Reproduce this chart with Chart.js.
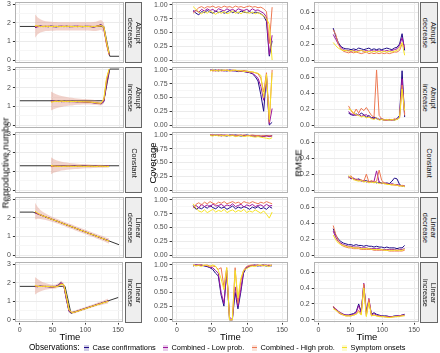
<!DOCTYPE html>
<html>
<head>
<meta charset="utf-8">
<script src="https://cdn.jsdelivr.net/npm/chart.js@4.4.1/dist/chart.umd.min.js"></script>
<style>
  body { margin: 0; width: 440px; height: 353px; position: relative; background: #fff; overflow: hidden;
         font-family: "Liberation Sans", Arial, sans-serif; color: #000; }
  canvas { position: absolute; }
  .strip { position: absolute; background: #eeeeee; border: 1px solid #666; box-sizing: border-box; }
  .strip span { position: absolute; left: 50%; top: 50%; transform: translate(-50%, -50%) rotate(90deg);
                white-space: nowrap; text-align: center; font-size: 7.4px; line-height: 8px; color: #1a1a1a; }
  .ytitle { position: absolute; font-size: 9.5px; white-space: nowrap; transform: translate(-50%, -50%) rotate(-90deg); }
  .xtitle { position: absolute; font-size: 9.5px; white-space: nowrap; transform: translateX(-50%); top: 331px; }
  .leg { position: absolute; top: 342.5px; line-height: 10px; font-size: 7.4px; white-space: nowrap; }
  .key { position: absolute; top: 344.5px; width: 5px; height: 6px; }
  .key i { position: absolute; left: 0; right: 0; top: 2.5px; height: 1px; }
</style>
</head>
<body>
<script>
// ---- data -------------------------------------------------------------
const seriesNames = ['Case confirmations', 'Combined - Low prob.', 'Combined - High prob.', 'Symptom onsets'];
const seriesColors = ['#1E0C88', '#9C179E', '#ED7953', '#F5E326'];
const scenarioLabels = [['Abrupt', 'decrease'], ['Abrupt', 'increase'], ['Constant'], ['Linear', 'decrease'], ['Linear', 'increase']];

const days = [23,27,31,35,39,43,47,51,55,59,63,67,71,75,79,83,87,91,95,99,103,107,111,115,119,123,127,131,135];
const daysLate = [47,51,55,59,63,67,71,75,79,83,87,91,95,99,103,107,111,115,119,123,127,131,135];

const xTicks = [0,25,50,75,100,125,150];
const xLabels = [0,50,100,150];

// true reproductive number (breakpoints)
const truthT = [[0,127,136,150], [0,127,136,150], [0,150], [0,20,150], [0,69,78,150]];
const truthR = [[1.8,1.8,0.2,0.2], [1.3,1.3,3.0,3.0], [1.3,1.3], [2.3,2.3,0.55], [1.8,1.8,0.35,1.2]];

// Rt estimates: [case confirmations, low prob, high prob, symptom onsets]
const rtAbruptDec = [
  [1.74,1.80,1.83,1.79,1.81,1.78,1.82,1.80,1.77,1.81,1.80,1.79,1.82,1.78,1.80,1.81,1.79,1.80,1.78,1.81,1.80,1.79,1.76,1.80,1.84,1.90,1.70,0.95,0.32],
  [1.76,1.78,1.81,1.80,1.79,1.80,1.81,1.78,1.80,1.79,1.82,1.80,1.79,1.80,1.78,1.80,1.82,1.79,1.80,1.79,1.81,1.80,1.77,1.79,1.85,1.88,1.72,0.90,0.30],
  [1.80,1.82,1.79,1.81,1.80,1.82,1.79,1.81,1.80,1.80,1.79,1.81,1.80,1.81,1.80,1.79,1.80,1.81,1.80,1.80,1.79,1.81,1.79,1.80,1.83,1.86,1.75,0.85,0.28],
  [1.85,1.83,1.80,1.78,1.82,1.79,1.80,1.79,1.81,1.78,1.80,1.79,1.81,1.80,1.79,1.80,1.78,1.81,1.79,1.80,1.80,1.78,1.79,1.81,1.82,1.84,1.78,1.00,0.35]
];
const rtAbruptInc = [
  [1.30,1.28,1.26,1.28,1.25,1.27,1.26,1.25,1.27,1.26,1.24,1.26,1.25,1.24,1.23,1.22,1.20,1.18,1.16,1.14,1.25,2.30,2.95],
  [1.28,1.27,1.27,1.26,1.26,1.25,1.27,1.26,1.25,1.25,1.25,1.24,1.24,1.23,1.23,1.21,1.19,1.17,1.15,1.14,1.28,2.20,2.90],
  [1.25,1.26,1.28,1.25,1.27,1.26,1.25,1.27,1.26,1.25,1.26,1.25,1.24,1.25,1.24,1.23,1.22,1.20,1.18,1.16,1.35,2.40,2.98],
  [1.22,1.25,1.27,1.26,1.28,1.26,1.27,1.25,1.26,1.26,1.25,1.25,1.25,1.24,1.24,1.23,1.21,1.19,1.17,1.18,1.40,2.50,3.00]
];
const rtConstant = [
  [1.30,1.27,1.28,1.26,1.29,1.27,1.28,1.26,1.27,1.28,1.26,1.27,1.28,1.27,1.26,1.27,1.28,1.27,1.26,1.27,1.28,1.27,1.27],
  [1.28,1.29,1.26,1.28,1.27,1.28,1.26,1.27,1.28,1.27,1.27,1.26,1.27,1.28,1.27,1.27,1.26,1.28,1.27,1.27,1.26,1.28,1.27],
  [1.25,1.27,1.29,1.27,1.26,1.28,1.27,1.28,1.26,1.27,1.28,1.27,1.26,1.27,1.28,1.26,1.27,1.27,1.28,1.26,1.27,1.27,1.28],
  [1.32,1.29,1.27,1.27,1.28,1.26,1.28,1.27,1.27,1.26,1.27,1.28,1.27,1.26,1.27,1.28,1.27,1.26,1.27,1.28,1.27,1.26,1.26]
];
const rtLinearDec = [
  [2.30,2.22,2.14,2.11,2.03,2.00,1.93,1.89,1.82,1.79,1.71,1.68,1.60,1.57,1.50,1.46,1.39,1.35,1.28,1.25,1.17,1.14,1.07,1.03,0.96,0.92,0.85,0.81,0.76],
  [2.28,2.20,2.16,2.09,2.05,1.98,1.95,1.87,1.84,1.77,1.73,1.66,1.62,1.55,1.52,1.44,1.41,1.33,1.30,1.23,1.19,1.12,1.09,1.01,0.98,0.90,0.87,0.79,0.77],
  [2.32,2.23,2.15,2.10,2.04,1.99,1.94,1.88,1.83,1.78,1.72,1.67,1.61,1.56,1.51,1.45,1.40,1.34,1.29,1.24,1.18,1.13,1.08,1.02,0.97,0.91,0.86,0.80,0.74],
  [2.35,2.24,2.17,2.09,2.06,1.98,1.94,1.87,1.84,1.77,1.73,1.66,1.62,1.55,1.52,1.44,1.41,1.33,1.30,1.23,1.19,1.12,1.09,1.01,0.98,0.90,0.87,0.79,0.75]
];
const rtLinearInc = [
  [1.80,1.78,1.82,1.79,1.80,1.78,1.76,1.77,1.80,1.88,2.00,1.85,1.10,0.45,0.38,0.42,0.46,0.51,0.55,0.60,0.65,0.69,0.74,0.79,0.83,0.88,0.92,0.97,1.01],
  [1.78,1.80,1.79,1.81,1.78,1.79,1.77,1.76,1.79,1.86,1.98,1.87,1.15,0.48,0.40,0.41,0.46,0.50,0.56,0.60,0.64,0.70,0.73,0.78,0.84,0.87,0.93,0.96,1.02],
  [1.82,1.79,1.80,1.80,1.79,1.80,1.78,1.77,1.78,1.84,1.95,1.88,1.20,0.50,0.39,0.40,0.45,0.50,0.55,0.59,0.64,0.69,0.74,0.78,0.83,0.87,0.92,0.96,1.00],
  [1.85,1.81,1.79,1.80,1.81,1.79,1.78,1.78,1.77,1.82,1.90,1.90,1.30,0.55,0.40,0.41,0.45,0.49,0.54,0.59,0.63,0.68,0.73,0.77,0.82,0.86,0.91,0.95,0.99]
];

// credible interval band: [lower, upper]
const bandAbruptDec = [
  [1.20,1.38,1.47,1.52,1.55,1.56,1.57,1.57,1.58,1.58,1.58,1.58,1.58,1.58,1.58,1.58,1.58,1.58,1.58,1.58,1.58,1.57,1.55,1.56,1.58,1.62,1.45,0.70,0.18],
  [2.45,2.28,2.18,2.12,2.08,2.06,2.05,2.04,2.04,2.03,2.03,2.03,2.03,2.02,2.02,2.02,2.02,2.02,2.02,2.02,2.02,2.03,2.04,2.05,2.10,2.14,2.00,1.15,0.42]
];
const bandAbruptInc = [
  [0.78,0.85,0.90,0.94,0.97,1.00,1.02,1.04,1.05,1.07,1.08,1.09,1.10,1.10,1.10,1.10,1.09,1.08,1.06,1.05,1.15,2.05,2.80],
  [1.80,1.72,1.65,1.60,1.56,1.53,1.50,1.48,1.46,1.44,1.42,1.41,1.40,1.39,1.38,1.37,1.35,1.32,1.28,1.25,1.45,2.55,3.05]
];
const bandConstant = [
  [0.85,0.92,0.97,1.01,1.04,1.06,1.08,1.10,1.11,1.12,1.13,1.14,1.15,1.16,1.16,1.17,1.18,1.18,1.19,1.19,1.20,1.20,1.21],
  [1.75,1.66,1.60,1.55,1.52,1.49,1.47,1.45,1.43,1.42,1.41,1.40,1.39,1.38,1.38,1.37,1.36,1.36,1.35,1.35,1.34,1.34,1.33]
];
const bandLinearDec = [
  [1.90,1.95,1.93,1.91,1.88,1.84,1.80,1.75,1.70,1.66,1.60,1.55,1.49,1.44,1.39,1.33,1.28,1.22,1.17,1.12,1.06,1.01,0.96,0.90,0.85,0.79,0.74,0.67,0.60],
  [2.80,2.58,2.42,2.30,2.22,2.14,2.08,2.01,1.96,1.90,1.84,1.79,1.73,1.68,1.63,1.57,1.52,1.46,1.41,1.36,1.30,1.25,1.20,1.14,1.09,1.04,0.99,0.93,0.90]
];
const bandLinearInc = [
  [1.35,1.45,1.52,1.58,1.62,1.65,1.66,1.67,1.69,1.74,1.85,1.72,1.00,0.38,0.32,0.34,0.39,0.44,0.49,0.53,0.58,0.62,0.67,0.71,0.75,0.78,0.82,0.85,0.88],
  [2.30,2.20,2.10,2.02,1.98,1.94,1.90,1.88,1.90,1.98,2.10,1.98,1.35,0.56,0.46,0.49,0.54,0.59,0.64,0.68,0.73,0.78,0.83,0.88,0.93,0.98,1.03,1.09,1.15]
];

// coverage
const covAbruptDec = [
  [0.90,0.85,0.82,0.88,0.86,0.90,0.87,0.85,0.89,0.86,0.88,0.85,0.87,0.90,0.86,0.88,0.85,0.89,0.87,0.86,0.88,0.85,0.87,0.86,0.84,0.80,0.70,0.07,0.35],
  [0.88,0.90,0.87,0.92,0.89,0.93,0.90,0.92,0.88,0.93,0.91,0.89,0.93,0.90,0.92,0.89,0.93,0.91,0.90,0.92,0.89,0.93,0.90,0.91,0.88,0.85,0.78,0.10,0.45],
  [0.85,0.90,0.95,0.97,0.94,0.97,0.96,0.98,0.95,0.97,0.95,0.98,0.96,0.97,0.95,0.98,0.96,0.97,0.95,0.97,0.98,0.96,0.97,0.95,0.96,0.93,0.88,0.30,0.96],
  [0.97,0.92,0.87,0.84,0.88,0.85,0.89,0.86,0.83,0.87,0.85,0.88,0.84,0.86,0.89,0.85,0.87,0.84,0.88,0.86,0.85,0.87,0.84,0.86,0.83,0.80,0.75,0.65,0.00]
];
const covAbruptInc = [
  [1.00,0.99,1.00,0.98,1.00,0.99,0.98,1.00,0.99,0.98,0.97,0.98,0.97,0.96,0.95,0.93,0.88,0.80,0.55,0.25,0.90,0.00,0.05],
  [0.99,1.00,0.98,1.00,0.99,0.98,1.00,0.99,0.98,0.99,0.98,0.97,0.98,0.96,0.96,0.94,0.90,0.85,0.70,0.45,0.88,0.02,0.30],
  [1.00,0.98,0.99,1.00,0.98,1.00,0.99,0.98,1.00,0.99,0.99,0.98,0.99,0.98,0.97,0.96,0.95,0.93,0.85,0.60,0.95,0.05,1.00],
  [0.98,1.00,0.99,0.98,1.00,0.99,1.00,0.98,0.99,1.00,0.98,0.99,0.97,0.98,0.96,0.97,0.95,0.94,0.90,0.50,0.92,0.10,0.95]
];
const covConstant = [
  [1.00,0.99,1.00,0.99,1.00,0.99,0.98,1.00,0.99,1.00,0.99,0.98,0.99,1.00,0.99,0.98,0.99,0.98,0.97,0.98,0.99,0.98,0.99],
  [0.99,1.00,0.99,1.00,0.98,1.00,0.99,0.99,1.00,0.98,0.99,1.00,0.98,0.99,0.99,0.98,0.97,0.99,0.98,0.97,0.98,0.97,0.98],
  [1.00,1.00,0.99,1.00,1.00,0.99,1.00,0.99,1.00,0.99,1.00,0.99,1.00,0.99,0.99,1.00,0.99,0.99,0.98,0.99,0.98,0.99,0.98],
  [0.99,0.98,1.00,0.98,0.99,0.98,0.99,0.98,0.99,0.97,0.98,0.99,0.97,0.98,0.98,0.97,0.96,0.97,0.96,0.95,0.94,0.93,0.95]
];
const covLinearDec = [
  [0.90,0.83,0.86,0.84,0.88,0.85,0.90,0.86,0.84,0.88,0.85,0.87,0.83,0.86,0.89,0.84,0.87,0.85,0.88,0.86,0.83,0.87,0.85,0.88,0.84,0.86,0.83,0.88,0.85],
  [0.87,0.90,0.86,0.92,0.88,0.91,0.87,0.93,0.89,0.90,0.92,0.88,0.91,0.89,0.93,0.88,0.90,0.92,0.87,0.91,0.89,0.92,0.88,0.90,0.91,0.88,0.92,0.89,0.90],
  [0.85,0.92,0.95,0.91,0.96,0.93,0.97,0.94,0.92,0.96,0.94,0.97,0.93,0.95,0.97,0.94,0.96,0.93,0.97,0.95,0.94,0.97,0.95,0.93,0.96,0.94,0.97,0.95,0.93],
  [0.93,0.85,0.80,0.78,0.82,0.77,0.80,0.83,0.78,0.81,0.79,0.83,0.77,0.80,0.82,0.78,0.81,0.79,0.83,0.77,0.80,0.78,0.82,0.79,0.76,0.80,0.74,0.67,0.78]
];
const covLinearInc = [
  [0.98,1.00,0.99,1.00,0.98,0.97,0.95,0.92,0.85,0.80,0.45,0.25,0.90,0.00,0.00,0.50,0.20,0.50,0.85,0.95,0.97,0.99,1.00,0.98,0.99,1.00,0.98,0.99,0.98],
  [0.99,1.00,1.00,0.99,0.99,0.98,0.96,0.95,0.90,0.85,0.50,0.30,0.85,0.05,0.00,0.60,0.25,0.55,0.88,0.95,0.98,0.99,0.99,1.00,0.98,0.99,1.00,0.98,1.00],
  [1.00,0.99,1.00,1.00,0.99,1.00,0.98,0.98,0.97,0.92,0.95,0.60,0.95,0.00,0.00,0.95,0.30,0.70,0.90,0.97,0.99,1.00,0.99,1.00,0.99,1.00,0.99,1.00,0.99],
  [1.00,0.98,0.99,0.97,1.00,0.99,0.97,1.00,0.98,0.90,0.75,0.55,0.95,0.00,0.00,0.90,0.40,0.75,0.90,0.93,0.96,0.98,0.97,0.99,1.00,0.98,0.99,0.97,1.00]
];

// RMSE
const rmseAbruptDec = [
  [0.40,0.30,0.22,0.17,0.15,0.14,0.14,0.13,0.14,0.13,0.15,0.14,0.13,0.14,0.15,0.13,0.14,0.13,0.14,0.13,0.14,0.15,0.14,0.13,0.15,0.16,0.20,0.33,0.12],
  [0.32,0.26,0.20,0.16,0.13,0.12,0.12,0.11,0.12,0.11,0.12,0.12,0.11,0.12,0.11,0.12,0.11,0.12,0.11,0.12,0.11,0.12,0.11,0.12,0.13,0.14,0.18,0.28,0.15],
  [0.38,0.32,0.20,0.14,0.11,0.10,0.09,0.10,0.09,0.10,0.09,0.08,0.09,0.10,0.08,0.09,0.08,0.09,0.08,0.09,0.08,0.09,0.08,0.09,0.10,0.10,0.12,0.20,0.17],
  [0.22,0.18,0.15,0.13,0.12,0.12,0.11,0.12,0.11,0.10,0.11,0.12,0.11,0.10,0.11,0.10,0.11,0.10,0.11,0.10,0.11,0.10,0.11,0.10,0.11,0.12,0.15,0.22,0.06]
];
const rmseAbruptInc = [
  [0.15,0.13,0.12,0.14,0.12,0.15,0.13,0.10,0.12,0.09,0.10,0.08,0.07,0.08,0.06,0.07,0.06,0.07,0.06,0.08,0.12,0.68,0.10],
  [0.17,0.14,0.13,0.12,0.14,0.11,0.12,0.13,0.10,0.09,0.08,0.09,0.07,0.07,0.06,0.06,0.07,0.06,0.07,0.07,0.10,0.58,0.14],
  [0.24,0.18,0.14,0.20,0.15,0.21,0.18,0.22,0.17,0.12,0.10,0.69,0.12,0.08,0.07,0.06,0.07,0.06,0.08,0.07,0.09,0.50,0.12],
  [0.20,0.19,0.15,0.13,0.12,0.10,0.11,0.09,0.10,0.08,0.07,0.09,0.06,0.07,0.06,0.07,0.06,0.07,0.06,0.07,0.09,0.45,0.18]
];
const rmseConstant = [
  [0.16,0.15,0.14,0.13,0.14,0.12,0.11,0.12,0.10,0.11,0.10,0.09,0.10,0.09,0.08,0.09,0.08,0.11,0.15,0.14,0.07,0.05,0.05],
  [0.17,0.14,0.15,0.12,0.13,0.11,0.12,0.10,0.11,0.10,0.11,0.24,0.10,0.08,0.09,0.08,0.07,0.08,0.07,0.07,0.06,0.05,0.05],
  [0.15,0.18,0.13,0.14,0.12,0.13,0.11,0.20,0.10,0.12,0.10,0.11,0.25,0.12,0.09,0.08,0.07,0.07,0.06,0.06,0.05,0.06,0.05],
  [0.18,0.16,0.13,0.12,0.11,0.12,0.10,0.11,0.09,0.10,0.09,0.10,0.08,0.09,0.08,0.07,0.07,0.06,0.07,0.06,0.05,0.05,0.04]
];
const rmseLinearDec = [
  [0.33,0.25,0.20,0.17,0.15,0.14,0.13,0.13,0.12,0.13,0.12,0.12,0.11,0.12,0.11,0.11,0.10,0.11,0.10,0.10,0.09,0.10,0.09,0.09,0.09,0.08,0.09,0.09,0.12],
  [0.30,0.22,0.17,0.15,0.13,0.12,0.11,0.11,0.10,0.10,0.10,0.09,0.09,0.09,0.08,0.08,0.08,0.08,0.08,0.07,0.07,0.07,0.07,0.07,0.07,0.06,0.07,0.07,0.08],
  [0.37,0.26,0.18,0.13,0.11,0.10,0.09,0.09,0.08,0.08,0.08,0.07,0.07,0.07,0.07,0.07,0.06,0.06,0.06,0.06,0.06,0.06,0.05,0.05,0.05,0.05,0.05,0.05,0.06],
  [0.25,0.19,0.15,0.13,0.12,0.11,0.10,0.10,0.09,0.09,0.09,0.08,0.08,0.08,0.08,0.07,0.07,0.07,0.07,0.07,0.06,0.06,0.06,0.06,0.06,0.06,0.06,0.06,0.07]
];
const rmseLinearInc = [
  [0.16,0.13,0.10,0.08,0.07,0.06,0.06,0.07,0.08,0.10,0.20,0.10,0.44,0.10,0.24,0.07,0.09,0.07,0.06,0.05,0.05,0.05,0.04,0.04,0.05,0.05,0.05,0.06,0.07],
  [0.17,0.14,0.11,0.09,0.07,0.06,0.06,0.06,0.07,0.09,0.18,0.09,0.46,0.07,0.27,0.06,0.08,0.06,0.05,0.05,0.04,0.04,0.04,0.04,0.04,0.05,0.05,0.06,0.06],
  [0.17,0.13,0.09,0.07,0.06,0.05,0.05,0.05,0.06,0.07,0.12,0.07,0.45,0.05,0.26,0.05,0.06,0.05,0.05,0.04,0.04,0.04,0.03,0.04,0.04,0.04,0.05,0.05,0.06],
  [0.14,0.12,0.10,0.08,0.06,0.05,0.05,0.05,0.06,0.07,0.10,0.06,0.40,0.04,0.22,0.05,0.06,0.05,0.04,0.04,0.04,0.03,0.03,0.03,0.04,0.04,0.04,0.05,0.05]
];

const scenarioDays = [days, daysLate, daysLate, days, days];
const rtEst = [rtAbruptDec, rtAbruptInc, rtConstant, rtLinearDec, rtLinearInc];
const rtBand = [bandAbruptDec, bandAbruptInc, bandConstant, bandLinearDec, bandLinearInc];
const coverage = [covAbruptDec, covAbruptInc, covConstant, covLinearDec, covLinearInc];
const rmse = [rmseAbruptDec, rmseAbruptInc, rmseConstant, rmseLinearDec, rmseLinearInc];

// y axes per column
const yRange = [[-0.15, 3.1], [-0.05, 1.05], [-0.0345, 0.7245]];
const yTicks = [[0,0.5,1,1.5,2,2.5,3], [0,0.125,0.25,0.375,0.5,0.625,0.75,0.875,1], [0,0.1,0.2,0.3,0.4,0.5,0.6,0.7]];
const yMajor = [[0,1,2,3], [0,0.25,0.5,0.75,1], [0,0.2,0.4,0.6]];
const yDigits = [0, 2, 1];

// sanity check on array lengths
[rtEst, coverage, rmse].forEach(m => m.forEach((sc, s) => sc.forEach(a => {
  if (a.length !== scenarioDays[s].length) throw new Error('length mismatch in scenario ' + s);
})));

// ---- layout -----------------------------------------------------------
const colX = [15, 172, 314], colW = [110, 117, 106];
const rowY = [2, 67, 132, 197, 262], rowH = 61;
const FONT = '"Liberation Sans", Arial, sans-serif';
Chart.defaults.font.family = FONT;

const isIn = (list, v) => list.some(m => Math.abs(m - v) < 1e-9);

const frame = {
  id: 'frame',
  afterDraw(c) {
    const a = c.chartArea, ctx = c.ctx;
    ctx.save();
    ctx.strokeStyle = '#b3b3b3';
    ctx.lineWidth = 1;
    ctx.strokeRect(Math.round(a.left) + 0.5, Math.round(a.top) + 0.5,
                   Math.round(a.right - a.left) - 1, Math.round(a.bottom - a.top) - 1);
    ctx.restore();
  }
};

function pts(xs, ys) { return xs.map((x, i) => ({ x: x, y: ys[i] })); }

function config(col, last, datasets) {
  return {
    type: 'line',
    data: { datasets: datasets },
    plugins: [frame],
    options: {
      responsive: false, animation: false, devicePixelRatio: 1, events: [],
      layout: { padding: 0 },
      elements: { point: { radius: 0 }, line: { tension: 0, borderWidth: 1 } },
      plugins: { legend: { display: false }, tooltip: { enabled: false } },
      scales: {
        x: {
          type: 'linear', min: -7.5, max: 157.5,
          afterBuildTicks: s => { s.ticks = xTicks.map(v => ({ value: v })); },
          border: { display: false },
          grid: {
            color: c => (c.tick && isIn(xLabels, c.tick.value)) ? '#ebebeb' : '#f6f6f6',
            drawTicks: last, tickLength: 2,
            tickColor: c => (c.tick && isIn(xLabels, c.tick.value)) ? '#333' : 'rgba(0,0,0,0)'
          },
          ticks: {
            display: last, autoSkip: false, maxRotation: 0, padding: 1,
            color: '#4d4d4d', font: { size: 7 },
            callback: v => isIn(xLabels, v) ? String(v) : ''
          }
        },
        y: {
          min: yRange[col][0], max: yRange[col][1],
          afterBuildTicks: s => { s.ticks = yTicks[col].map(v => ({ value: v })); },
          border: { display: false },
          grid: {
            color: c => (c.tick && isIn(yMajor[col], c.tick.value)) ? '#ebebeb' : '#f6f6f6',
            tickLength: 2,
            tickColor: c => (c.tick && isIn(yMajor[col], c.tick.value)) ? '#333' : 'rgba(0,0,0,0)'
          },
          ticks: {
            autoSkip: false, padding: 2, color: '#4d4d4d', font: { size: 7 },
            callback: v => isIn(yMajor[col], v) ? v.toFixed(yDigits[col]) : ''
          }
        }
      }
    }
  };
}

function addPanel(col, row, build) {
  const last = row === 4;
  const cv = document.createElement('canvas');
  document.body.appendChild(cv);
  let w = colW[col] + 30, h = rowH + (last ? 14 : 4);
  const make = () => { cv.width = w; cv.height = h; return new Chart(cv, config(col, last, build())); };
  let ch = make();
  let a = ch.chartArea;
  w += colW[col] - (a.right - a.left);
  h += rowH - (a.bottom - a.top);
  ch.destroy();
  ch = make();
  a = ch.chartArea;
  cv.style.left = (colX[col] - a.left) + 'px';
  cv.style.top = (rowY[row] - a.top) + 'px';
}

function seriesSets(xs, list) {
  return list.map((ys, k) => ({
    data: pts(xs, ys), borderColor: seriesColors[k], borderWidth: 1, fill: false, order: 4 - k
  }));
}

for (let s = 0; s < 5; s++) {
  const xs = scenarioDays[s];
  addPanel(0, s, () => [
    { data: pts(truthT[s], truthR[s]), borderColor: '#333333', borderWidth: 1, fill: false, order: 10 },
    { data: pts(xs, rtBand[s][0]), borderColor: 'rgba(0,0,0,0)', borderWidth: 0, fill: false, order: 9 },
    { data: pts(xs, rtBand[s][1]), borderColor: 'rgba(0,0,0,0)', borderWidth: 0, fill: '-1',
      backgroundColor: 'rgba(220,140,120,0.38)', order: 8 },
    ...seriesSets(xs, rtEst[s])
  ]);
  addPanel(1, s, () => seriesSets(xs, coverage[s]));
  addPanel(2, s, () => seriesSets(xs, rmse[s]));
}

// ---- strips, titles, legend ------------------------------------------
function el(cls, css, html) {
  const d = document.createElement('div');
  d.className = cls; d.style.cssText = css;
  if (html !== undefined) d.innerHTML = html;
  document.body.appendChild(d);
  return d;
}
const stripX = [[125, 17], [420, 18]];
scenarioLabels.forEach((lab, s) => {
  stripX.forEach(([x, w]) => {
    el('strip', `left:${x}px;top:${rowY[s]}px;width:${w}px;height:${rowH}px`, '<span>' + lab.join('<br>') + '</span>');
  });
});
const yTitles = ['Reproductive number', 'Coverage', 'RMSE'];
const yTitleX = [4.5, 152, 297.5];
yTitles.forEach((t, i) => el('ytitle', `left:${yTitleX[i]}px;top:162.5px`, t));
colX.forEach((x, i) => el('xtitle', `left:${x + colW[i] / 2}px`, 'Time'));

el('leg', 'left:29px;font-size:8.2px', 'Observations:');
const legendX = [84, 163, 252, 342];
seriesNames.forEach((n, k) => {
  const c = seriesColors[k];
  const r = parseInt(c.slice(1, 3), 16), g = parseInt(c.slice(3, 5), 16), b = parseInt(c.slice(5, 7), 16);
  el('key', `left:${legendX[k]}px;background:rgba(${r},${g},${b},0.22)`, `<i style="background:${c}"></i>`);
  el('leg', `left:${legendX[k] + 8.5}px`, n);
});
</script>
</body>
</html>
